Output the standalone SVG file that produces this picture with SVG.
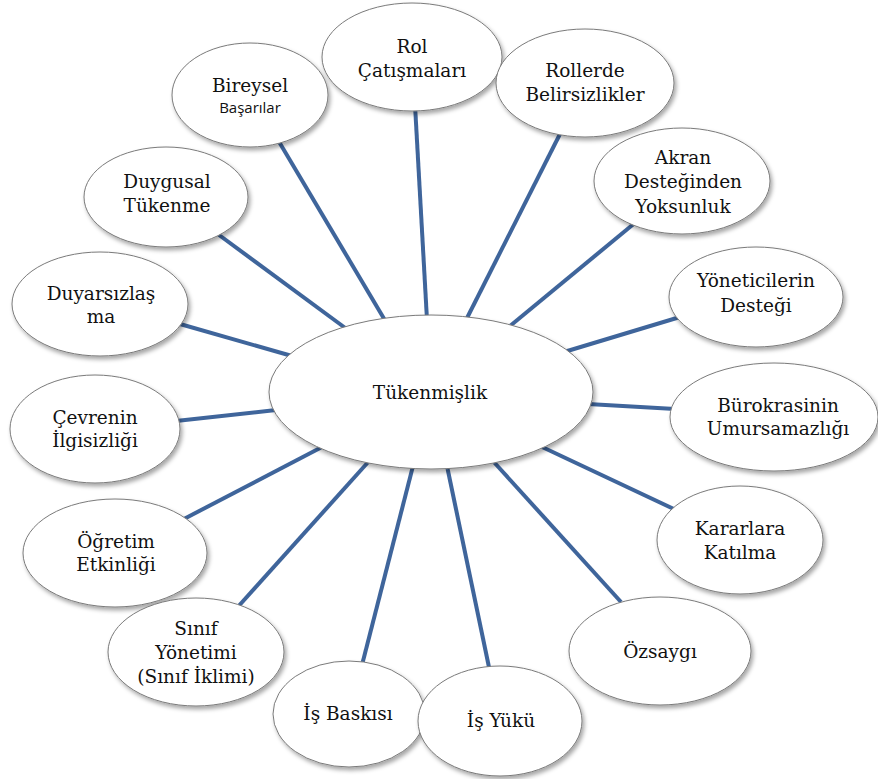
<svg xmlns="http://www.w3.org/2000/svg" width="878" height="779" viewBox="0 0 878 779">
<defs>
<filter id="sh" x="-20%" y="-20%" width="140%" height="150%">
<feDropShadow dx="2" dy="3" stdDeviation="2" flood-color="#000" flood-opacity="0.35"/>
</filter>
<style>
.n ellipse{fill:#fff;stroke:#7a7a7a;stroke-width:1;filter:url(#sh)}
.n text{font-family:'DejaVu Serif','Liberation Serif',serif;font-size:18.5px;fill:#111;text-anchor:middle}
.n text.s{font-family:'Open Sans','Liberation Sans',sans-serif;font-size:15px}
#connectors line{stroke:#3f659b;stroke-width:4;stroke-linecap:butt}
</style>
</defs>
<rect width="878" height="779" fill="#fff"/>
<g id="connectors">
<line x1="278" y1="140" x2="386" y2="322"/>
<line x1="215" y1="232" x2="348" y2="330"/>
<line x1="415" y1="105" x2="427" y2="320"/>
<line x1="562" y1="130" x2="466" y2="320"/>
<line x1="636" y1="222" x2="510" y2="326"/>
<line x1="180" y1="324" x2="292" y2="356"/>
<line x1="680" y1="317" x2="564" y2="352"/>
<line x1="675" y1="409" x2="588" y2="404"/>
<line x1="176" y1="421" x2="276" y2="410"/>
<line x1="182" y1="520" x2="322" y2="447"/>
<line x1="236" y1="609" x2="370" y2="460"/>
<line x1="362" y1="665" x2="413" y2="466"/>
<line x1="490" y1="672" x2="447" y2="466"/>
<line x1="621" y1="602" x2="492" y2="460"/>
<line x1="676" y1="510" x2="540" y2="446"/>
</g>
<g id="n-center" class="n"><ellipse cx="431" cy="392" rx="162" ry="77"/><text x="430" y="399">Tükenmişlik</text></g>
<g id="n-bireysel" class="n"><ellipse cx="250" cy="95" rx="78" ry="52"/><text x="250" y="92">Bireysel</text><text class="s" x="250" y="113">Başarılar</text></g>
<g id="n-rol" class="n"><ellipse cx="412" cy="57" rx="90" ry="54"/><text x="412" y="53">Rol</text><text x="412" y="77">Çatışmaları</text></g>
<g id="n-rollerde" class="n"><ellipse cx="585" cy="83" rx="89" ry="54"/><text x="585" y="77">Rollerde</text><text x="585" y="101">Belirsizlikler</text></g>
<g id="n-akran" class="n"><ellipse cx="682" cy="181" rx="88" ry="53"/><text x="683" y="164">Akran</text><text x="683" y="188">Desteğinden</text><text x="683" y="213">Yoksunluk</text></g>
<g id="n-duygusal" class="n"><ellipse cx="166" cy="197" rx="82" ry="50"/><text x="167" y="188">Duygusal</text><text x="167" y="212">Tükenme</text></g>
<g id="n-duyarsizlasma" class="n"><ellipse cx="100" cy="304" rx="88" ry="52"/><text x="101" y="300">Duyarsızlaş</text><text x="101" y="323">ma</text></g>
<g id="n-yoneticilerin" class="n"><ellipse cx="756" cy="297" rx="87" ry="50"/><text x="756" y="287">Yöneticilerin</text><text x="756" y="312">Desteği</text></g>
<g id="n-burokrasi" class="n"><ellipse cx="774" cy="417" rx="104" ry="54"/><text x="778" y="412">Bürokrasinin</text><text x="778" y="435">Umursamazlığı</text></g>
<g id="n-cevrenin" class="n"><ellipse cx="95" cy="429" rx="85" ry="54"/><text x="95" y="424">Çevrenin</text><text x="95" y="447">İlgisizliği</text></g>
<g id="n-ogretim" class="n"><ellipse cx="115" cy="553" rx="92" ry="54"/><text x="116" y="548">Öğretim</text><text x="116" y="571">Etkinliği</text></g>
<g id="n-kararlara" class="n"><ellipse cx="740" cy="540" rx="83" ry="54"/><text x="740" y="535">Kararlara</text><text x="740" y="559">Katılma</text></g>
<g id="n-ozsaygi" class="n"><ellipse cx="660" cy="651" rx="91" ry="54"/><text x="660" y="658">Özsaygı</text></g>
<g id="n-sinif" class="n"><ellipse cx="196" cy="652" rx="88" ry="54"/><text x="196" y="635">Sınıf</text><text x="196" y="659">Yönetimi</text><text x="196" y="683">(Sınıf İklimi)</text></g>
<g id="n-isbaskisi" class="n"><ellipse cx="349" cy="714" rx="76" ry="53"/><text x="348" y="720">İş Baskısı</text></g>
<g id="n-isyuku" class="n"><ellipse cx="500" cy="721" rx="82" ry="55"/><text x="501" y="727">İş Yükü</text></g>
</svg>
